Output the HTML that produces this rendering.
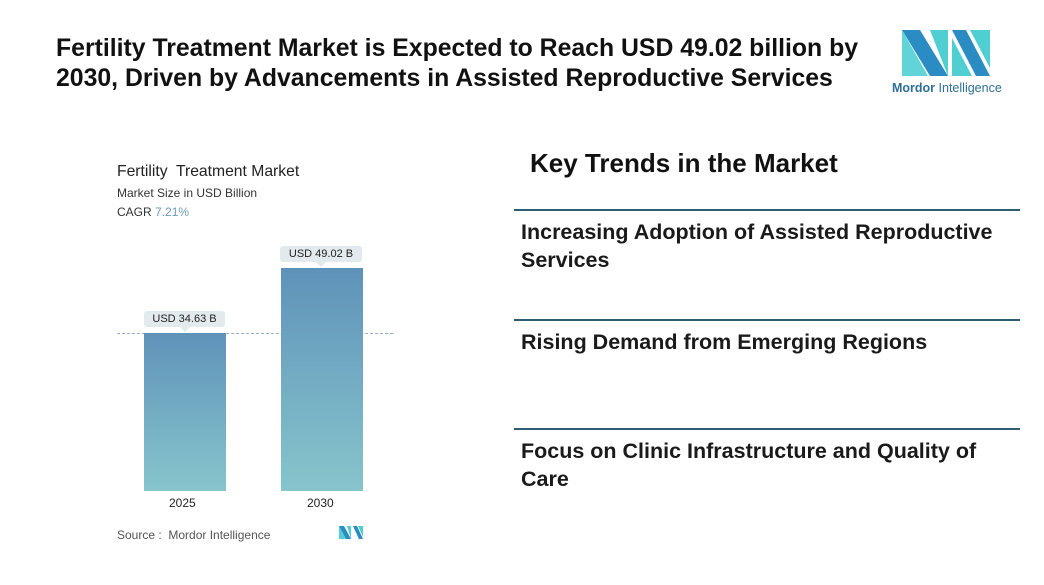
<!DOCTYPE html>
<html><head><meta charset="utf-8"><style>
body{margin:0;width:1044px;height:585px;background:#fff;position:relative;font-family:"Liberation Sans",sans-serif;overflow:hidden}
.a{position:absolute}
.h{font-weight:bold;color:#111;font-size:24.8px;line-height:30px;left:56px;top:34px;width:830px}
.kt{left:530px;top:148px;font-size:26px;font-weight:bold;color:#111}
.ln{left:514px;width:506px;height:2px;background:#2e5d73}
.tr{left:521px;font-size:21.5px;font-weight:bold;color:#1a1a1a;line-height:28px;width:495px}
.bar{background:linear-gradient(#5f92b9,#86c5cc)}
.lab{background:#e2eaed;font-size:11px;color:#222;text-align:center;height:16px;line-height:16px;border-radius:3px}
.lab:after{content:"";position:absolute;left:50%;margin-left:-5px;bottom:-5px;border:5px solid transparent;border-bottom:0;border-top-color:#e2eaed}
</style></head><body>
<div class="a h">Fertility Treatment Market is Expected to Reach USD 49.02 billion by 2030, Driven by Advancements in Assisted Reproductive Services</div>
<svg class="a" style="left:900px;top:28px" width="92" height="50">
<polygon points="2,2 20,2 48,48 30,48" fill="#2b8cc4"/><polygon points="2,2 2,48 28,48" fill="#4fcfd1" opacity="0.9"/>
<polygon points="30,2 48,2 48,48" fill="#4fcfd1"/><polygon points="52,2 66,2 90,48 76,48" fill="#2b8cc4"/>
<polygon points="52,10 52,48 72,48" fill="#4fcfd1"/><polygon points="70,2 90,2 90,40" fill="#4fcfd1"/>
</svg>
<div class="a" style="left:892px;top:81px;font-size:12.5px;color:#2d6f96"><b>Mordor</b> Intelligence</div>

<div class="a" style="left:117px;top:163px;font-size:15.7px;color:#222">Fertility&nbsp; Treatment Market</div>
<div class="a" style="left:117px;top:186px;font-size:12px;color:#333">Market Size in USD Billion</div>
<div class="a" style="left:117px;top:205px;font-size:12px;color:#333">CAGR <span style="color:#6e9bbb">7.21%</span></div>
<div class="a" style="left:117px;top:333px;width:276px;border-top:1.5px dashed #98aebb"></div>
<div class="a bar" style="left:144px;top:333px;width:82px;height:158px"></div>
<div class="a bar" style="left:281px;top:268px;width:82px;height:223px"></div>
<div class="a lab" style="left:144px;top:311px;width:81px">USD 34.63 B</div>
<div class="a lab" style="left:280px;top:246px;width:82px">USD 49.02 B</div>
<div class="a" style="left:169px;top:496px;font-size:12px;color:#222">2025</div>
<div class="a" style="left:307px;top:496px;font-size:12px;color:#222">2030</div>
<div class="a" style="left:117px;top:528px;font-size:12px;color:#555">Source :&nbsp; Mordor Intelligence</div>
<svg class="a" style="left:339px;top:526px" width="24" height="13"><polygon points="0,0 5,0 12,13 7,13" fill="#2b8cc4"/><polygon points="0,0 0,13 7,13" fill="#4fcfd1"/><polygon points="8,0 12,0 12,13" fill="#4fcfd1"/><polygon points="14,0 18,0 24,13 20,13" fill="#2b8cc4"/><polygon points="19,0 24,0 24,11" fill="#4fcfd1"/></svg>

<div class="a kt">Key Trends in the Market</div>
<div class="a ln" style="top:209px"></div>
<div class="a tr" style="top:218px">Increasing Adoption of Assisted Reproductive Services</div>
<div class="a ln" style="top:319px"></div>
<div class="a tr" style="top:328px">Rising Demand from Emerging Regions</div>
<div class="a ln" style="top:428px"></div>
<div class="a tr" style="top:437px">Focus on Clinic Infrastructure and Quality of Care</div>
</body></html>
